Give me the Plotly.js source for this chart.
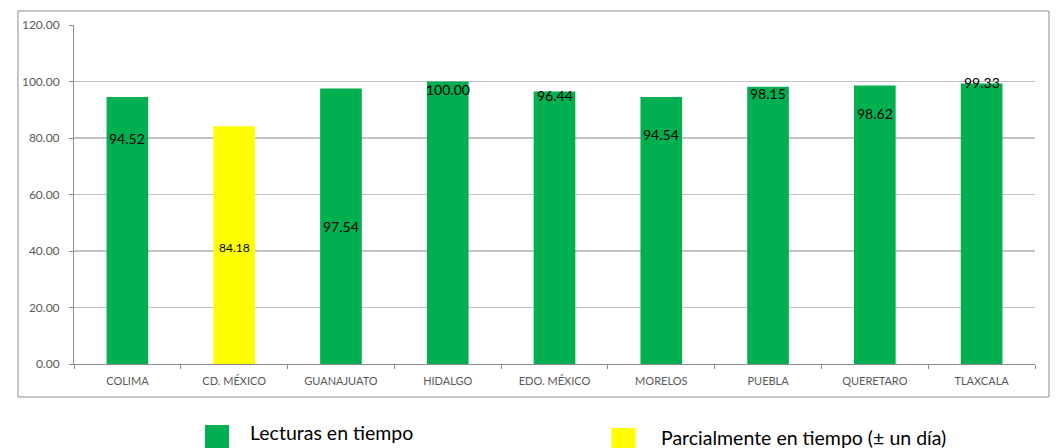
<!DOCTYPE html>
<html>
<head>
<meta charset="utf-8">
<script src="https://cdn.plot.ly/plotly-3.0.1.min.js"></script>
<style>html,body{margin:0;padding:0;background:#fff;}#chart{width:1061px;height:448px;}</style>
</head>
<body>
<div id="chart"></div>
<script>
const categories = ["COLIMA","CD. MÉXICO","GUANAJUATO","HIDALGO","EDO. MÉXICO","MORELOS","PUEBLA","QUERETARO","TLAXCALA"];
const values = [94.52, 84.18, 97.54, 100.00, 96.44, 94.54, 98.15, 98.62, 99.33];
const status = ["tiempo","parcial","tiempo","tiempo","tiempo","tiempo","tiempo","tiempo","tiempo"];
const yTicks = [0, 20, 40, 60, 80, 100, 120];
const legendLabels = {tiempo: "Lecturas en tiempo", parcial: "Parcialmente en tiempo (± un día)"};

// label placement (data units, as in the reference's manually moved labels)
const labelY = [80.0, 41.4, 48.5, 97.0, 94.9, 81.4, 95.9, 88.8, 99.8];

const colorOf = {tiempo: "#00B050", parcial: "#FFFF00"};
const FONT = "Lato, 'Open Sans', sans-serif";

const trace = {
  type: "bar",
  x: categories,
  y: values,
  marker: {color: status.map(s => colorOf[s]), line: {width: 0}},
  hoverinfo: "x+y",
  showlegend: false
};

const annotations = categories.map((c, i) => ({
  x: c, y: labelY[i], xref: "x", yref: "y",
  text: values[i].toFixed(2), showarrow: false,
  font: {family: FONT, size: status[i] === "parcial" ? 12 : 14, color: "#000"},
  xanchor: "center", yanchor: "middle"
}));

annotations.push({
  xref: "paper", yref: "paper", x: 0.181, y: -0.2035, xanchor: "left", yanchor: "middle",
  text: legendLabels.tiempo, showarrow: false, font: {family: FONT, size: 19.5, color: "#000"}
});
annotations.push({
  xref: "paper", yref: "paper", x: 0.6085, y: -0.216, xanchor: "left", yanchor: "middle",
  text: legendLabels.parcial, showarrow: false, font: {family: FONT, size: 19.5, color: "#000"}
});

const shapes = [
  {type: "rect", xref: "paper", yref: "paper", x0: -0.0583, x1: 1.0146, y0: -0.0973, y1: 1.0413,
   line: {color: "#8c8c8c", width: 1}, fillcolor: "rgba(0,0,0,0)", layer: "below"},
  {type: "rect", xref: "paper", yref: "paper", x0: 0.1363, x1: 0.1613, y0: -0.250, y1: -0.180,
   line: {width: 0}, fillcolor: colorOf.tiempo},
  {type: "rect", xref: "paper", yref: "paper", x0: 0.5593, x1: 0.5843, y0: -0.250, y1: -0.189,
   line: {width: 0}, fillcolor: colorOf.parcial}
];

const layout = {
  width: 1061, height: 448,
  margin: {l: 74, r: 26, t: 25, b: 84, pad: 0},
  paper_bgcolor: "#fff", plot_bgcolor: "#fff",
  bargap: 0.61,
  xaxis: {
    type: "category",
    showline: true, linecolor: "#8c8c8c", linewidth: 1,
    ticks: "outside", ticklen: 4, tickcolor: "#8c8c8c", tickson: "boundaries",
    ticklabelstandoff: 7,
    tickfont: {family: FONT, size: 11, color: "#595959"},
    showgrid: false, zeroline: false, fixedrange: true
  },
  yaxis: {
    range: [0, 120], tickvals: yTicks, ticktext: yTicks.map(v => v.toFixed(2)),
    showline: true, linecolor: "#8c8c8c", linewidth: 1,
    ticks: "outside", ticklen: 4, tickcolor: "#8c8c8c",
    ticklabelstandoff: 7,
    tickfont: {family: FONT, size: 12, color: "#595959"},
    showgrid: true, gridcolor: "#c4c4c4", gridwidth: 1.2,
    zeroline: false, fixedrange: true
  },
  annotations: annotations,
  shapes: shapes,
  showlegend: false
};

Plotly.newPlot("chart", [trace], layout, {displayModeBar: false, staticPlot: true});
</script>
</body>
</html>
